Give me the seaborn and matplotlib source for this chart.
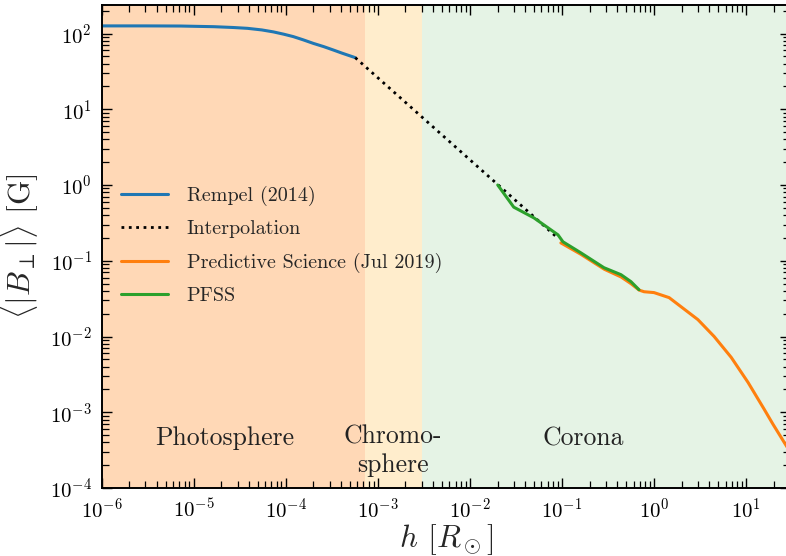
import matplotlib
matplotlib.use("Agg")
import matplotlib.pyplot as plt
import numpy as np
import pandas as pd
import seaborn as sns

# ---- data (height above photosphere in solar radii, field strength in G) ----
rempel_h = [1e-6, 3e-6, 7.2e-6, 1.66e-5, 2.7e-5, 3.85e-5, 5.5e-5, 7.36e-5, 9.5e-5,
            1.21e-4, 1.55e-4, 2.0e-4, 2.6e-4, 3.3e-4, 4.1e-4, 5.04e-4, 5.7e-4]
rempel_b = [126, 126, 125.5, 123, 120, 117, 111.5, 105, 98,
            91, 82.5, 74, 67, 60.5, 55, 50.5, 48]

interp_h = [5.7e-4, 0.09]
interp_b = [48, 0.2]

ps_h = [0.0975, 0.16, 0.29, 0.44, 0.56, 0.69, 0.78, 1.0, 1.46, 1.96, 3.0, 4.5,
        6.9, 10.5, 15.7, 19.6, 27.9, 30]
ps_b = [0.172, 0.122, 0.077, 0.061, 0.050, 0.041, 0.039, 0.038, 0.0326, 0.0248,
        0.0167, 0.0100, 0.0053, 0.00248, 0.0011, 0.000695, 0.000347, 0.0003]

pfss_h = [0.0201, 0.030, 0.0497, 0.0906, 0.1026, 0.161, 0.286, 0.438, 0.562, 0.687]
pfss_b = [1.0, 0.51, 0.368, 0.22, 0.178, 0.127, 0.081, 0.0655, 0.053, 0.0415]

# layer boundaries (R_sun): photosphere top ~500 km, chromosphere top ~2100 km
layer_edges = [1e-6, 7.2e-4, 3.0e-3, 30]
layer_names = ["Photosphere", "Chromo-\nsphere", "Corona"]
layer_label_x = [2.2e-5, 1.47e-3, 0.17]
layer_label_y = [4.5e-4, 3.05e-4, 4.5e-4]
layer_colors = ["tab:orange", "orange", "tab:green"]
layer_alpha = [0.3, 0.2, 0.12]

series_labels = ["Rempel (2014)", "Interpolation",
                 "Predictive Science (Jul 2019)", "PFSS"]

# ---- style ----
sns.set_style("ticks")
plt.rcParams["font.family"] = ["serif"]
plt.rcParams["font.serif"] = ["cmr10"]
plt.rcParams["mathtext.fontset"] = "cm"
plt.rcParams["axes.formatter.use_mathtext"] = True
plt.rcParams["axes.unicode_minus"] = True

fig = plt.figure(figsize=(7.86, 5.56), dpi=100)
ax = fig.add_axes([101.5 / 786, 1 - 488 / 556, (790 - 101.5) / 786, (488 - 4.7) / 556])
ax.set_xscale("log")
ax.set_yscale("log")

for i in range(3):
    ax.axvspan(layer_edges[i], layer_edges[i + 1], color=layer_colors[i],
               alpha=layer_alpha[i], lw=0, zorder=0)

rempel = pd.DataFrame({"h": rempel_h, "B": rempel_b})
interp = pd.DataFrame({"h": interp_h, "B": interp_b})
ps = pd.DataFrame({"h": ps_h, "B": ps_b})
pfss = pd.DataFrame({"h": pfss_h, "B": pfss_b})

sns.lineplot(data=rempel, x="h", y="B", ax=ax, color="tab:blue", lw=2.2,
             estimator=None, sort=False, label=series_labels[0])
sns.lineplot(data=interp, x="h", y="B", ax=ax, color="black", lw=2.0,
             linestyle=":", estimator=None, sort=False, label=series_labels[1])
sns.lineplot(data=ps, x="h", y="B", ax=ax, color="tab:orange", lw=2.2,
             estimator=None, sort=False, label=series_labels[2])
sns.lineplot(data=pfss, x="h", y="B", ax=ax, color="tab:green", lw=2.2,
             estimator=None, sort=False, label=series_labels[3])

for name, x, y in zip(layer_names, layer_label_x, layer_label_y):
    ax.text(x, y, name, ha="center", va="center", fontsize=18.5,
            color="#222222", linespacing=1.25)

ax.set_xlim(1e-6, 30)
ax.set_ylim(1e-4, 240)

ax.set_xlabel(r"$h$ [$R_\odot$]", fontsize=22.5, labelpad=0)
ax.set_ylabel(r"$\langle|B_\perp|\rangle$ [G]", fontsize=22.5, labelpad=6)

ax.tick_params(which="both", direction="in", top=True, right=True,
               colors="black", labelsize=15)
ax.tick_params(which="major", length=7, width=1, pad=7)
ax.tick_params(which="minor", length=4.8, width=0.9)
ax.xaxis.set_major_locator(matplotlib.ticker.LogLocator(base=10, numticks=20))
ax.xaxis.set_minor_locator(matplotlib.ticker.LogLocator(base=10, subs=np.arange(2, 10), numticks=20))
ax.yaxis.set_major_locator(matplotlib.ticker.LogLocator(base=10, numticks=20))
ax.yaxis.set_minor_locator(matplotlib.ticker.LogLocator(base=10, subs=np.arange(2, 10), numticks=20))
ax.xaxis.set_minor_formatter(matplotlib.ticker.NullFormatter())
ax.yaxis.set_minor_formatter(matplotlib.ticker.NullFormatter())

for s in ax.spines.values():
    s.set_linewidth(1.4)
    s.set_color("black")

ax.legend(loc="center left", bbox_to_anchor=(0.029, 0.502), frameon=False,
          fontsize=14.5, borderpad=0, borderaxespad=0, handlelength=2.33,
          handletextpad=0.9, labelspacing=0.71)

fig.savefig("out.png", dpi=100)
